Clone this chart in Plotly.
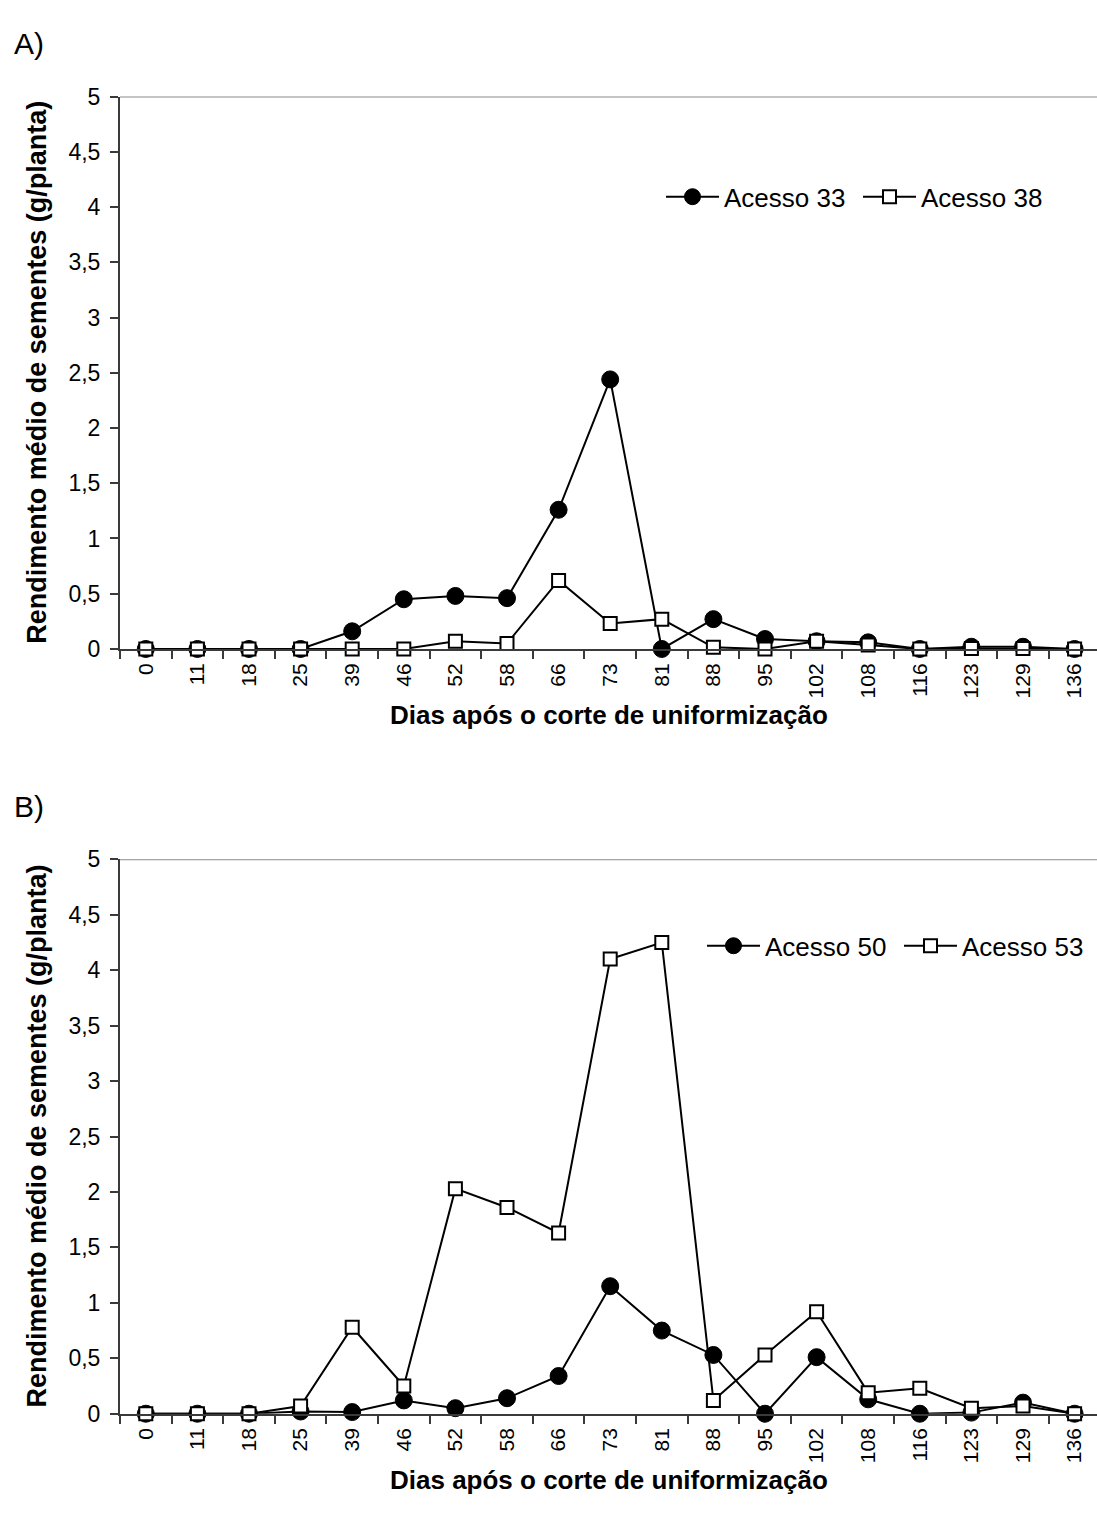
import plotly.graph_objects as go

# Days after the uniformisation cut (category labels on the x axis)
dias = ["0", "11", "18", "25", "39", "46", "52", "58", "66", "73",
        "81", "88", "95", "102", "108", "116", "123", "129", "136"]

# Mean seed yield (g/plant) per accession
acesso_33 = [0, 0, 0, 0, 0.16, 0.45, 0.48, 0.46, 1.26, 2.44,
             0, 0.27, 0.09, 0.07, 0.06, 0, 0.02, 0.02, 0]
acesso_38 = [0, 0, 0, 0, 0, 0, 0.07, 0.05, 0.62, 0.23,
             0.27, 0.015, 0, 0.07, 0.035, 0, 0.005, 0.005, 0]
acesso_50 = [0, 0, 0, 0.02, 0.015, 0.12, 0.05, 0.14, 0.34, 1.15,
             0.75, 0.53, 0, 0.51, 0.13, 0, 0.01, 0.10, 0]
acesso_53 = [0, 0, 0, 0.07, 0.78, 0.25, 2.03, 1.86, 1.63, 4.10,
             4.25, 0.12, 0.53, 0.92, 0.19, 0.23, 0.05, 0.07, 0]

y_ticks = [0, 0.5, 1, 1.5, 2, 2.5, 3, 3.5, 4, 4.5, 5]

W, H = 1097, 1526
FONT = "Liberation Sans, Arial, sans-serif"
AXIS_COLOR = "#3a3a3a"

pos = list(range(len(dias)))
boundaries = [i - 0.5 for i in range(len(dias) + 1)]


def py(px):
    """Pixel row -> paper y."""
    return 1 - px / H


def px_x(px):
    """Pixel column -> paper x."""
    return px / W


fig = go.Figure()


def add_pair(circ_vals, sq_vals, circ_name, sq_name, xa, ya, legend):
    fig.add_trace(go.Scatter(
        x=pos, y=circ_vals, name=circ_name, mode="lines+markers",
        xaxis=xa, yaxis=ya, legend=legend, cliponaxis=False,
        line=dict(color="black", width=2),
        marker=dict(symbol="circle", size=17, color="black",
                    line=dict(color="black", width=1)),
    ))
    fig.add_trace(go.Scatter(
        x=pos, y=sq_vals, name=sq_name, mode="lines+markers",
        xaxis=xa, yaxis=ya, legend=legend, cliponaxis=False,
        line=dict(color="black", width=2),
        marker=dict(symbol="square", size=13, color="white",
                    line=dict(color="black", width=2)),
    ))


add_pair(acesso_33, acesso_38, "Acesso 33", "Acesso 38", "x", "y", "legend")
add_pair(acesso_50, acesso_53, "Acesso 50", "Acesso 53", "x2", "y2", "legend2")

# Plot-area geometry (pixels)
AX_LEFT = 120
SPACING = 51.6
x_right = -0.5 + (W - AX_LEFT) / SPACING
panels = {"A": (85, 647), "B": (861, 1425)}

xaxis_common = dict(
    range=[-0.5, x_right], domain=[px_x(AX_LEFT), 1],
    tickmode="array", tickvals=pos, ticktext=dias, tickangle=-90,
    ticks="", ticklabelstandoff=4, showgrid=False, zeroline=False,
    showline=True, linecolor=AXIS_COLOR, linewidth=2,
    tickfont=dict(family=FONT, size=21, color="black"),
    minor=dict(tickmode="array", tickvals=boundaries, ticks="outside",
               ticklen=8, tickwidth=2, tickcolor=AXIS_COLOR, showgrid=False),
)
yaxis_common = dict(
    range=[0, 5], tickmode="array", tickvals=y_ticks,
    ticks="outside", ticklen=8, tickwidth=2, tickcolor=AXIS_COLOR,
    ticklabelstandoff=5, showgrid=False, zeroline=False,
    showline=True, linecolor=AXIS_COLOR, linewidth=2,
    tickfont=dict(family=FONT, size=23, color="black"),
)

legend_common = dict(
    orientation="h", xanchor="left", yanchor="middle",
    font=dict(family=FONT, size=26, color="black"),
    bgcolor="rgba(0,0,0,0)", itemwidth=53,
    entrywidth=129, entrywidthmode="pixels", tracegroupgap=0,
)

fig.update_layout(
    width=W, height=H,
    margin=dict(l=0, r=0, t=0, b=0),
    paper_bgcolor="white", plot_bgcolor="white",
    separators=", ",
    font=dict(family=FONT, color="black"),
    xaxis=dict(anchor="y", **xaxis_common),
    xaxis2=dict(anchor="y2", **xaxis_common),
    yaxis=dict(anchor="x", domain=[py(panels["A"][1]), py(panels["A"][0])],
               **yaxis_common),
    yaxis2=dict(anchor="x2", domain=[py(panels["B"][1]), py(panels["B"][0])],
                **yaxis_common),
    legend=dict(x=px_x(661), y=py(187), **legend_common),
    legend2=dict(x=px_x(702), y=py(949), **legend_common),
    showlegend=True,
)

# Grey frame line across the top of each plot area
for xd, ya in (("x domain", "y"), ("x2 domain", "y2")):
    fig.add_shape(type="line", xref=xd, yref=ya, x0=0, x1=1, y0=5, y1=5,
                  line=dict(color="#8a8a8a", width=2))

# Panel letters and axis titles
for letter, (top, bottom) in panels.items():
    fig.add_annotation(text=letter + ")", x=px_x(12), y=py(top - 54),
                       xref="paper", yref="paper", xanchor="left",
                       yanchor="middle", showarrow=False,
                       font=dict(family=FONT, size=30, color="black"))
    fig.add_annotation(text="<b>Rendimento médio de sementes (g/planta)</b>",
                       x=px_x(37), y=py((top + bottom) / 2), textangle=-90,
                       xref="paper", yref="paper", xanchor="center",
                       yanchor="middle", showarrow=False,
                       font=dict(family=FONT, size=27, color="black"))
    fig.add_annotation(text="<b>Dias após o corte de uniformização</b>",
                       x=px_x(AX_LEFT + (W - AX_LEFT) / 2), y=py(bottom + 67),
                       xref="paper", yref="paper", xanchor="center",
                       yanchor="middle", showarrow=False,
                       font=dict(family=FONT, size=26, color="black"))

fig.write_html("out.html")
